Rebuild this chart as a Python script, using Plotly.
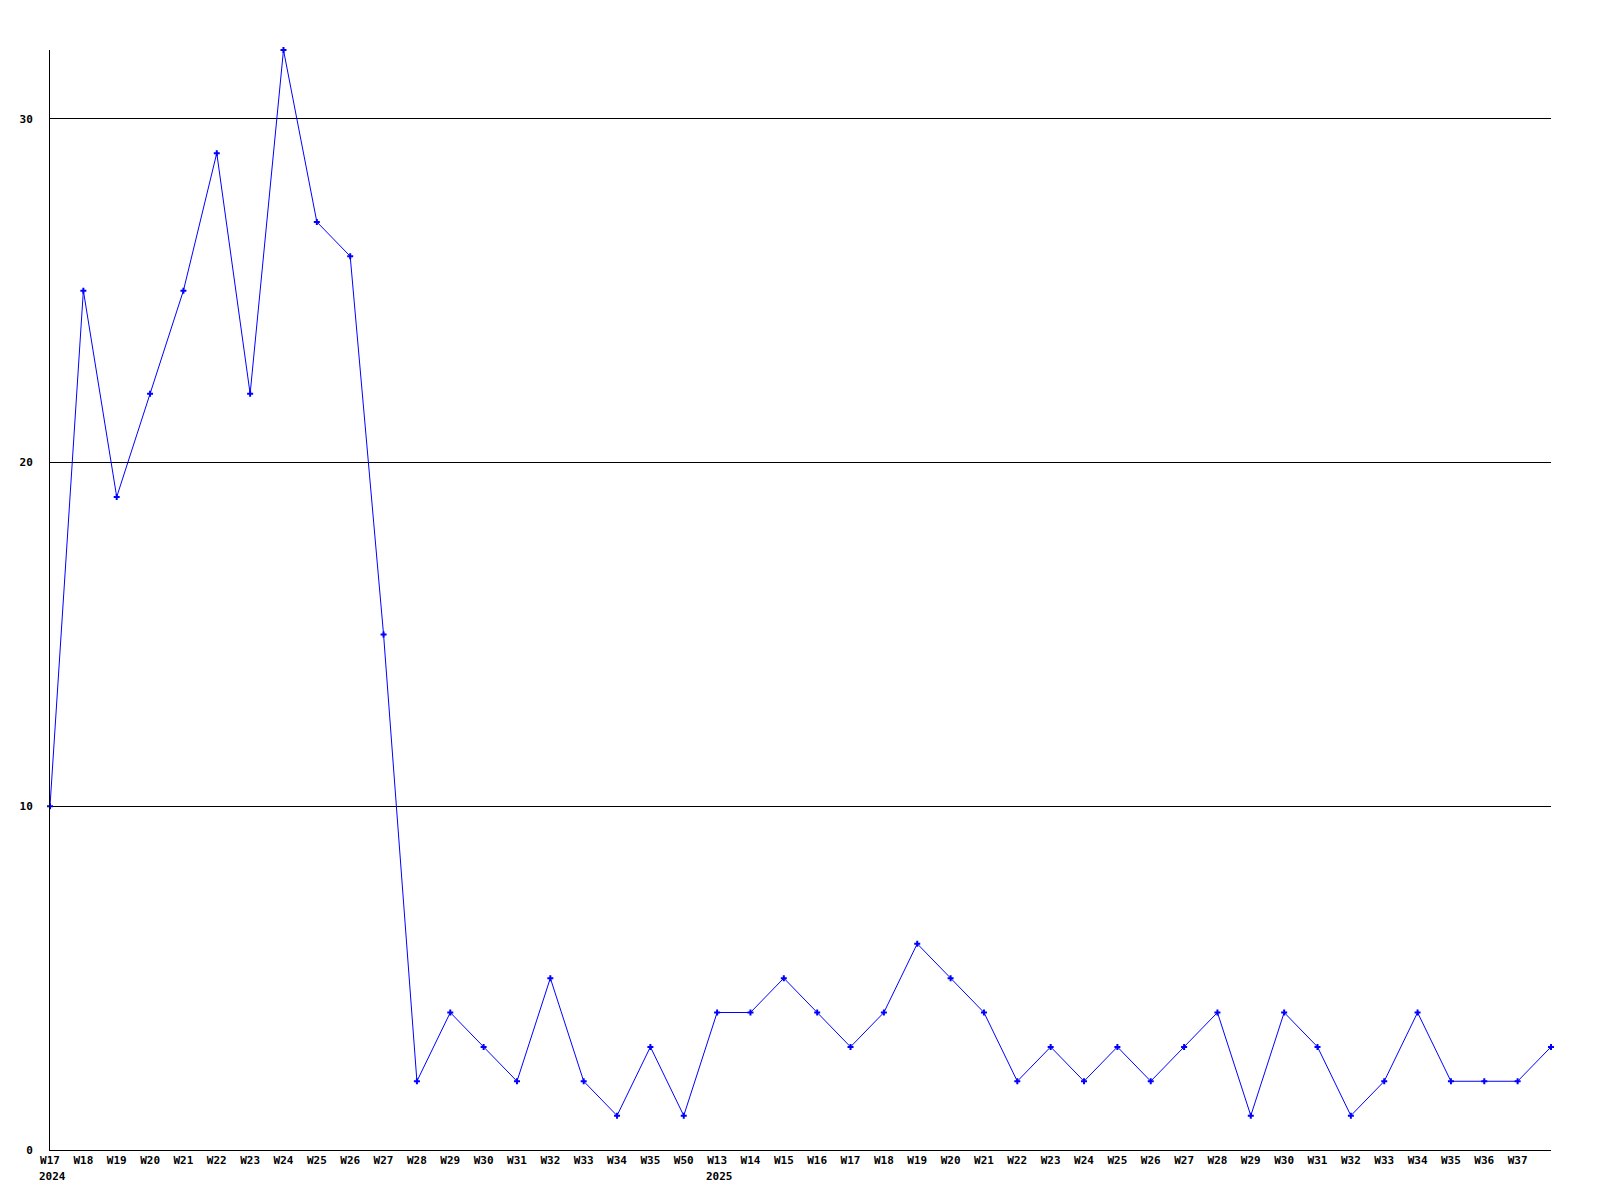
import plotly.graph_objects as go

weeks = ["W17", "W18", "W19", "W20", "W21", "W22", "W23", "W24", "W25", "W26",
         "W27", "W28", "W29", "W30", "W31", "W32", "W33", "W34", "W35", "W50",
         "W13", "W14", "W15", "W16", "W17", "W18", "W19", "W20", "W21", "W22",
         "W23", "W24", "W25", "W26", "W27", "W28", "W29", "W30", "W31", "W32",
         "W33", "W34", "W35", "W36", "W37", ""]
years = {0: "2024", 20: "2025"}
values = [10, 25, 19, 22, 25, 29, 22, 32, 27, 26,
          15, 2, 4, 3, 2, 5, 2, 1, 3, 1,
          4, 4, 5, 4, 3, 4, 6, 5, 4, 2,
          3, 2, 3, 2, 3, 4, 1, 4, 3, 1,
          2, 4, 2, 2, 2, 3]
y_ticks = [0, 10, 20, 30]

FONT = "DejaVu Sans Mono"
xs = list(range(len(values)))

fig = go.Figure()
fig.add_trace(go.Scatter(
    x=xs, y=values, mode="lines+markers",
    line=dict(color="#0000ff", width=1),
    marker=dict(symbol="cross", size=5, color="#0000ff", line=dict(width=0)),
    hoverinfo="skip", showlegend=False, cliponaxis=False,
))

tickvals = [i for i, w in enumerate(weeks) if w]
ticktext = ["<b>%s</b>" % weeks[i] for i in tickvals]

annotations = []
for i, yr in years.items():
    annotations.append(dict(
        x=i, y=0, xref="x", yref="paper", text="<b>%s</b>" % yr,
        showarrow=False, xanchor="left", yanchor="top", xshift=-13, yshift=-18,
        font=dict(family=FONT, size=11, color="black"),
    ))

fig.update_layout(
    width=1592, height=1192,
    margin=dict(l=42, r=49, t=42, b=50),
    paper_bgcolor="white", plot_bgcolor="white",
    font=dict(family=FONT, size=11, color="black"),
    annotations=annotations,
    xaxis=dict(
        range=[0, len(values) - 1], tickmode="array", tickvals=tickvals, ticktext=ticktext,
        showgrid=False, zeroline=False, showline=True, linecolor="black", linewidth=1,
        ticks="", tickangle=0, automargin=False,
        tickfont=dict(family=FONT, size=11, color="black"),
    ),
    yaxis=dict(
        range=[0, 32], tickmode="array", tickvals=y_ticks,
        ticktext=["<b>%d</b>" % v for v in y_ticks],
        showgrid=True, gridcolor="black", gridwidth=1, zeroline=False,
        showline=True, linecolor="black", linewidth=1, ticks="", automargin=False,
        ticklabelstandoff=14, tickfont=dict(family=FONT, size=11, color="black"),
    ),
)

fig.write_html("out.html")
